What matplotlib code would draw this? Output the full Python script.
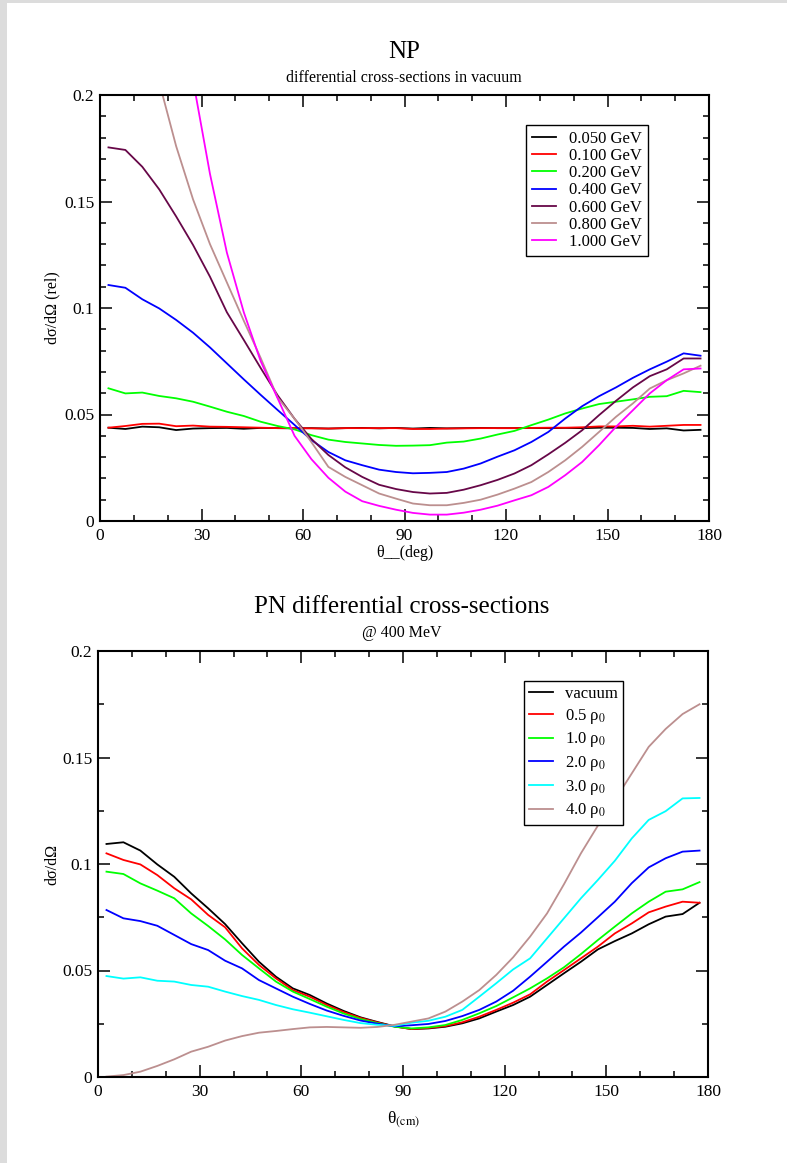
import matplotlib
matplotlib.use("Agg")
import matplotlib.pyplot as plt
from matplotlib.patches import Rectangle
from matplotlib.ticker import MultipleLocator, FixedLocator, FixedFormatter

plt.rcParams['font.family'] = ['Liberation Serif', 'DejaVu Serif']
plt.rcParams['mathtext.fontset'] = 'stix'

# ---------------- data ----------------
theta = [2.5, 7.5, 12.5, 17.5, 22.5, 27.5, 32.5, 37.5, 42.5, 47.5, 52.5, 57.5,
         62.5, 67.5, 72.5, 77.5, 82.5, 87.5, 92.5, 97.5, 102.5, 107.5, 112.5, 117.5,
         122.5, 127.5, 132.5, 137.5, 142.5, 147.5, 152.5, 157.5, 162.5, 167.5, 172.5, 177.5]

np_labels = ["0.050 GeV", "0.100 GeV", "0.200 GeV", "0.400 GeV", "0.600 GeV", "0.800 GeV", "1.000 GeV"]
np_colors = ["#000000", "#ff0000", "#00ff00", "#0000ff", "#670748", "#bc8f8f", "#ff00ff"]

np_050 = [0.0438, 0.0432, 0.0443, 0.0440, 0.0427, 0.0434, 0.0436, 0.0437, 0.0433, 0.0437, 0.0436, 0.0435,
          0.0436, 0.0434, 0.0436, 0.0437, 0.0435, 0.0437, 0.0434, 0.0437, 0.0435, 0.0436, 0.0437, 0.0436,
          0.0436, 0.0437, 0.0436, 0.0437, 0.0436, 0.0438, 0.0438, 0.0437, 0.0432, 0.0435, 0.0425, 0.0428]
np_100 = [0.0438, 0.0446, 0.0456, 0.0457, 0.0445, 0.0448, 0.0443, 0.0442, 0.0440, 0.0438, 0.0436, 0.0436,
          0.0435, 0.0434, 0.0436, 0.0436, 0.0436, 0.0436, 0.0432, 0.0432, 0.0434, 0.0435, 0.0436, 0.0436,
          0.0436, 0.0437, 0.0438, 0.0438, 0.0440, 0.0444, 0.0444, 0.0447, 0.0443, 0.0447, 0.0451, 0.0451]
np_200 = [0.0623, 0.0599, 0.0603, 0.0587, 0.0576, 0.0560, 0.0537, 0.0513, 0.0493, 0.0466, 0.0446, 0.0430,
          0.0403, 0.0382, 0.0371, 0.0364, 0.0357, 0.0353, 0.0354, 0.0356, 0.0368, 0.0373, 0.0387, 0.0406,
          0.0423, 0.0450, 0.0476, 0.0505, 0.0528, 0.0549, 0.0560, 0.0571, 0.0583, 0.0586, 0.0611, 0.0605]
np_400 = [0.1108, 0.1095, 0.1041, 0.0998, 0.0944, 0.0884, 0.0815, 0.0740, 0.0665, 0.0592, 0.0521, 0.0451,
          0.0380, 0.0324, 0.0285, 0.0262, 0.0241, 0.0230, 0.0224, 0.0226, 0.0230, 0.0246, 0.0270, 0.0302,
          0.0332, 0.0371, 0.0418, 0.0481, 0.0539, 0.0586, 0.0627, 0.0672, 0.0712, 0.0748, 0.0787, 0.0776]
np_600 = [0.1754, 0.1742, 0.1663, 0.1557, 0.1430, 0.1296, 0.1147, 0.0980, 0.0850, 0.0718, 0.0590, 0.0480,
          0.0385, 0.0310, 0.0252, 0.0207, 0.0170, 0.0150, 0.0136, 0.0129, 0.0132, 0.0147, 0.0168, 0.0193,
          0.0223, 0.0262, 0.0313, 0.0367, 0.0426, 0.0497, 0.0564, 0.0627, 0.0680, 0.0712, 0.0763, 0.0763]
np_800 = [0.3200, 0.2800, 0.2400, 0.2060, 0.1760, 0.1510, 0.1300, 0.1120, 0.0940, 0.0765, 0.0580, 0.0480,
          0.0370, 0.0254, 0.0207, 0.0168, 0.0129, 0.0105, 0.0082, 0.0074, 0.0074, 0.0085, 0.0100, 0.0124,
          0.0152, 0.0183, 0.0230, 0.0285, 0.0348, 0.0418, 0.0489, 0.0552, 0.0622, 0.0661, 0.0693, 0.0729]
np_1000 = [0.5000, 0.4600, 0.4000, 0.3300, 0.2600, 0.2070, 0.1630, 0.1260, 0.0980, 0.0750, 0.0576, 0.0400,
           0.0290, 0.0203, 0.0138, 0.0093, 0.0071, 0.0053, 0.0038, 0.0030, 0.0030, 0.0039, 0.0053, 0.0072,
           0.0097, 0.0121, 0.0160, 0.0215, 0.0277, 0.0356, 0.0442, 0.0520, 0.0599, 0.0661, 0.0712, 0.0716]

pn_labels = ["vacuum", "0.5 ρ$_0$", "1.0 ρ$_0$", "2.0 ρ$_0$", "3.0 ρ$_0$", "4.0 ρ$_0$"]
pn_colors = ["#000000", "#ff0000", "#00ff00", "#0000ff", "#00ffff", "#bc8f8f"]

pn_vac = [0.1094, 0.1102, 0.1063, 0.0998, 0.0940, 0.0862, 0.0792, 0.0718, 0.0628, 0.0541, 0.0471, 0.0416,
          0.0385, 0.0345, 0.0310, 0.0280, 0.0258, 0.0238, 0.0225, 0.0228, 0.0236, 0.0252, 0.0275, 0.0307,
          0.0338, 0.0377, 0.0432, 0.0487, 0.0541, 0.0599, 0.0638, 0.0674, 0.0717, 0.0753, 0.0765, 0.0818]
pn_05 = [0.1050, 0.1019, 0.0998, 0.0948, 0.0886, 0.0834, 0.0761, 0.0703, 0.0604, 0.0526, 0.0463, 0.0408,
         0.0377, 0.0338, 0.0305, 0.0277, 0.0256, 0.0237, 0.0225, 0.0230, 0.0239, 0.0257, 0.0283, 0.0315,
         0.0349, 0.0388, 0.0448, 0.0502, 0.0557, 0.0612, 0.0674, 0.0721, 0.0773, 0.0800, 0.0823, 0.0818]
pn_10 = [0.0964, 0.0953, 0.0909, 0.0875, 0.0839, 0.0768, 0.0709, 0.0646, 0.0573, 0.0510, 0.0448, 0.0401,
         0.0366, 0.0330, 0.0298, 0.0272, 0.0253, 0.0236, 0.0228, 0.0233, 0.0244, 0.0268, 0.0299, 0.0333,
         0.0374, 0.0416, 0.0463, 0.0515, 0.0577, 0.0643, 0.0706, 0.0768, 0.0823, 0.0870, 0.0881, 0.0915]
pn_20 = [0.0784, 0.0745, 0.0732, 0.0710, 0.0667, 0.0624, 0.0596, 0.0546, 0.0510, 0.0455, 0.0416, 0.0377,
         0.0343, 0.0312, 0.0287, 0.0265, 0.0250, 0.0238, 0.0243, 0.0249, 0.0263, 0.0286, 0.0315, 0.0354,
         0.0405, 0.0471, 0.0541, 0.0612, 0.0678, 0.0750, 0.0823, 0.0910, 0.0984, 0.1027, 0.1058, 0.1063]
pn_30 = [0.0474, 0.0462, 0.0468, 0.0452, 0.0448, 0.0432, 0.0424, 0.0401, 0.0380, 0.0362, 0.0338, 0.0318,
         0.0302, 0.0285, 0.0268, 0.0253, 0.0245, 0.0240, 0.0255, 0.0264, 0.0283, 0.0315, 0.0377, 0.0440,
         0.0505, 0.0557, 0.0651, 0.0745, 0.0839, 0.0925, 0.1015, 0.1120, 0.1207, 0.1248, 0.1308, 0.1310]
pn_40 = [0.0002, 0.0009, 0.0025, 0.0052, 0.0083, 0.0119, 0.0142, 0.0171, 0.0192, 0.0208, 0.0216, 0.0225,
         0.0233, 0.0235, 0.0233, 0.0231, 0.0235, 0.0245, 0.0260, 0.0275, 0.0307, 0.0354, 0.0408, 0.0479,
         0.0562, 0.0659, 0.0768, 0.0905, 0.1050, 0.1180, 0.1300, 0.1425, 0.1550, 0.1634, 0.1704, 0.1750]

x_ticks = [0, 30, 60, 90, 120, 150, 180]
y_ticks = [0, 0.05, 0.1, 0.15, 0.2]
y_tick_labels = ["0", "0.05", "0.1", "0.15", "0.2"]

# ---------------- figure ----------------
W, H = 787, 1163
fig = plt.figure(figsize=(W / 100, H / 100), dpi=100)
fig.patch.set_facecolor("white")
fig.add_artist(Rectangle((0, 0), 7 / W, 1, transform=fig.transFigure,
                         facecolor="#dcdcdc", edgecolor="none", zorder=-10))
fig.add_artist(Rectangle((0, 1 - 3 / H), 1, 3 / H, transform=fig.transFigure,
                         facecolor="#dcdcdc", edgecolor="none", zorder=-10))


def px_axes(l, t, r, b):
    return [l / W, 1 - b / H, (r - l) / W, (b - t) / H]


def style_axes(ax, ymin_minor):
    ax.set_xlim(0, 180)
    ax.set_ylim(0, 0.2)
    ax.xaxis.set_major_locator(FixedLocator(x_ticks))
    ax.xaxis.set_minor_locator(MultipleLocator(10))
    ax.yaxis.set_major_locator(FixedLocator(y_ticks))
    ax.yaxis.set_major_formatter(FixedFormatter(y_tick_labels))
    ax.yaxis.set_minor_locator(MultipleLocator(ymin_minor))
    ax.tick_params(which="both", direction="in", top=True, right=True, width=1.1)
    ax.tick_params(which="major", length=8.5, labelsize=12.5, pad=5)
    ax.tick_params(which="minor", length=4.3)
    ax.tick_params(axis="y", which="major", pad=4)
    for s in ax.spines.values():
        s.set_linewidth(1.5)


lw = 1.3

# ----- top panel -----
ax1 = fig.add_axes(px_axes(100, 95, 709, 521))
np_series = [np_050, np_100, np_200, np_400, np_600, np_800, np_1000]
for ys, c, lab in zip(np_series, np_colors, np_labels):
    ax1.plot(theta, ys, color=c, lw=lw, label=lab)
style_axes(ax1, 0.01)
ax1.set_xlabel("θ__(deg)", fontsize=11.5, va="baseline")
ax1.xaxis.set_label_coords(0.5, -(557 - 521) / 426)
ax1.set_ylabel("dσ/dΩ (rel)", fontsize=11.5, va="center")
ax1.yaxis.set_label_coords((52 - 100) / 609, 0.5)
leg1 = ax1.legend(loc="upper left", bbox_to_anchor=(526 / W, 1 - 125 / H),
                  bbox_transform=fig.transFigure, borderaxespad=0, fontsize=12,
                  frameon=True, fancybox=False, framealpha=1, edgecolor="black",
                  handlelength=1.45, handletextpad=0.8, labelspacing=0.07,
                  borderpad=0.35)
leg1.get_frame().set_linewidth(1.0)

fig.text(404 / W, 1 - 58 / H, "NP", ha="center", va="baseline", fontsize=18)
fig.text(404 / W, 1 - 82 / H, "differential cross-sections in vacuum",
         ha="center", va="baseline", fontsize=11.5)

# ----- bottom panel -----
ax2 = fig.add_axes(px_axes(98, 651, 708, 1077))
pn_series = [pn_vac, pn_05, pn_10, pn_20, pn_30, pn_40]
for ys, c, lab in zip(pn_series, pn_colors, pn_labels):
    ax2.plot(theta, ys, color=c, lw=lw, label=lab)
style_axes(ax2, 0.025)
ax2.set_xlabel("θ$_{(\\mathrm{cm})}$", fontsize=12.5, va="baseline")
ax2.xaxis.set_label_coords(0.5, -(1123 - 1077) / 426)
ax2.set_ylabel("dσ/dΩ", fontsize=11.5, va="center")
ax2.yaxis.set_label_coords((52 - 98) / 610, 0.5)
leg2 = ax2.legend(loc="upper left", bbox_to_anchor=(524 / W, 1 - 681 / H),
                  bbox_transform=fig.transFigure, borderaxespad=0, fontsize=12,
                  frameon=True, fancybox=False, framealpha=1, edgecolor="black",
                  handlelength=1.45, handletextpad=0.7, labelspacing=0.28,
                  borderpad=0.3)
leg2.get_frame().set_linewidth(1.0)

fig.text(402 / W, 1 - 613 / H, "PN differential cross-sections", ha="center",
         va="baseline", fontsize=18)
fig.text(402 / W, 1 - 637 / H, "@ 400 MeV", ha="center", va="baseline", fontsize=11.5)

fig.savefig("out.png", dpi=100)
